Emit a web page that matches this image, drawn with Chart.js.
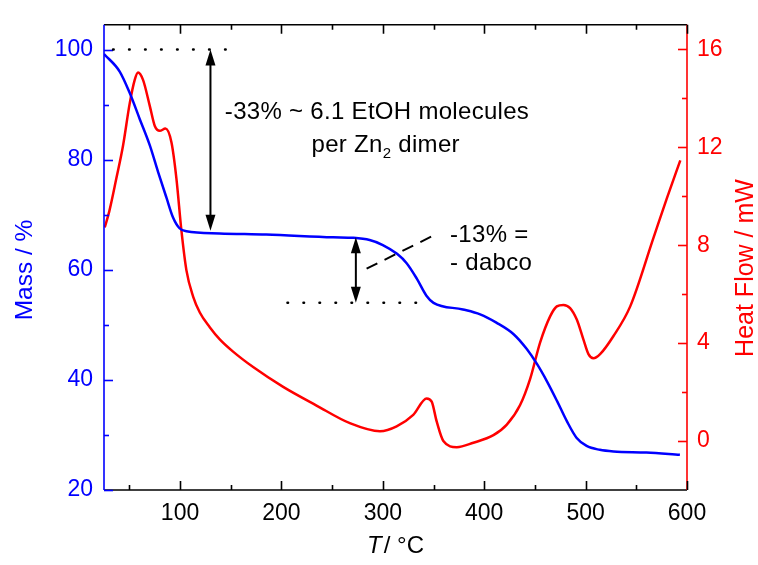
<!DOCTYPE html>
<html>
<head>
<meta charset="utf-8">
<script src="https://cdn.jsdelivr.net/npm/chart.js@4.4.1/dist/chart.umd.min.js"></script>
<style>
  html, body { margin: 0; padding: 0; background: #fff; }
  #wrap { width: 758px; height: 565px; position: relative; }
</style>
</head>
<body>
<div id="wrap"><canvas id="tga"></canvas></div>
<script>
  // TGA mass curve (left axis)
  const TEMP_MASS = [25, 40.5, 50.4, 60.2, 70.2, 78.3, 86.6, 93.1, 99.7, 106.3, 139, 185, 251, 271, 287, 300, 314, 323.5, 333.5, 343, 350, 379, 396, 412, 429, 442, 452, 462, 472, 481.5, 491, 501, 514, 527.5, 560, 593];
  const MASS = [99.2, 96.0, 92.1, 87.4, 82.6, 77.8, 73.1, 69.5, 67.5, 67.0, 66.6, 66.4, 65.9, 65.8, 65.4, 64.5, 62.9, 61.2, 58.4, 55.3, 54.0, 52.8, 51.9, 50.4, 48.3, 45.6, 42.9, 39.7, 36.1, 32.5, 29.5, 28.0, 27.3, 27.0, 26.8, 26.4];

  // DSC heat flow (right axis)
  const TEMP_HF = [25.7, 30.2, 37.2, 43.8, 50.4, 55.3, 58.6, 63.5, 70.2, 75.1, 80, 85.6, 91.5, 96.4, 101.4, 106.3, 112.9, 119.5, 129.3, 139.2, 152.3, 172.1, 201.7, 234.6, 267.5, 297.2, 313.6, 330, 343.2, 348.2, 353.1, 359.7, 372.9, 389.3, 409.1, 422.3, 435.4, 445.3, 455.1, 465, 471.6, 478.1, 484.7, 491.3, 497.8, 502.8, 507.7, 514.3, 527.5, 544, 567, 580.2, 593.4];
  const HF = [8.72, 9.38, 10.73, 12.07, 13.8, 14.75, 15.05, 14.75, 13.68, 12.87, 12.67, 12.76, 12.2, 10.73, 8.58, 6.97, 5.9, 5.25, 4.65, 4.15, 3.65, 3.02, 2.21, 1.45, 0.73, 0.40, 0.60, 1.07, 1.74, 1.61, 0.80, 0.0, -0.25, -0.07, 0.24, 0.67, 1.47, 2.54, 4.02, 5.09, 5.5, 5.56, 5.43, 4.96, 4.15, 3.55, 3.38, 3.55, 4.29, 5.5, 8.31, 9.92, 11.46];

  const X_TICKS = [100, 200, 300, 400, 500, 600];
  const X_MINOR = [50, 150, 250, 350, 450, 550];
  const MASS_TICKS = [20, 40, 60, 80, 100];
  const MASS_MINOR = [30, 50, 70, 90];
  const HF_TICKS = [0, 4, 8, 12, 16];
  const HF_MINOR = [2, 6, 10, 14];

  // annotations in data coordinates (x: °C, y: mass %)
  const DOTTED = [
    [[34, 100], [160, 100]],
    [[206, 54], [347, 54]],
  ];
  const ARROWS = [
    [[130, 100], [130, 67.1]],
    [[273.4, 65.9], [273.4, 54]],
  ];
  const DASHED = [[[284, 60.2], [353, 66.5]]];
  const LABELS = [
    { x: 144.2, y: 87.4, parts: [["-33% ~ 6.1 EtOH molecules", 0]] },
    { x: 229.7, y: 81.4, parts: [["per Zn", 0], ["2", 1], [" dimer", 0]] },
    { x: 366.3, y: 65.1, parts: [["-13% =", 0]] },
    { x: 366.3, y: 60.05, parts: [["- dabco", 0]] },
  ];

  const FONT = '"Liberation Sans", Arial, sans-serif';
  const BLUE = "#0000ff";
  const RED = "#ff0000";

  function fixTicks(list) {
    return (scale) => { scale.ticks = list.map((v) => ({ value: v })); };
  }

  const frame = {
    id: "frame",
    afterDraw(chart) {
      const { ctx, chartArea: a, scales } = chart;
      const x = scales.x, yM = scales.yMass, yH = scales.yHf;
      ctx.save();
      ctx.lineWidth = 1.6;
      ctx.lineCap = "butt";

      function hline(y, color) {
        ctx.strokeStyle = color;
        ctx.beginPath(); ctx.moveTo(a.left, y); ctx.lineTo(a.right, y); ctx.stroke();
      }
      function vline(px, color) {
        ctx.strokeStyle = color;
        ctx.beginPath(); ctx.moveTo(px, a.top); ctx.lineTo(px, a.bottom); ctx.stroke();
      }
      hline(a.top, "#000");
      hline(a.bottom, "#000");
      vline(a.left, BLUE);
      vline(a.right, RED);

      // x ticks, top & bottom, pointing inward
      ctx.strokeStyle = "#000";
      [[X_TICKS, 9], [X_MINOR, 5]].forEach(([vals, len]) => {
        vals.forEach((v) => {
          const px = Math.round(x.getPixelForValue(v)) + 0.5;
          ctx.beginPath();
          ctx.moveTo(px, a.bottom); ctx.lineTo(px, a.bottom - len);
          ctx.moveTo(px, a.top); ctx.lineTo(px, a.top + len);
          ctx.stroke();
        });
      });
      ctx.strokeStyle = BLUE;
      [[MASS_TICKS, 9], [MASS_MINOR, 5]].forEach(([vals, len]) => {
        vals.forEach((v) => {
          const py = Math.round(yM.getPixelForValue(v)) + 0.5;
          ctx.beginPath(); ctx.moveTo(a.left, py); ctx.lineTo(a.left + len, py); ctx.stroke();
        });
      });
      ctx.strokeStyle = RED;
      [[HF_TICKS, 9], [HF_MINOR, 5]].forEach(([vals, len]) => {
        vals.forEach((v) => {
          const py = Math.round(yH.getPixelForValue(v)) + 0.5;
          ctx.beginPath(); ctx.moveTo(a.right, py); ctx.lineTo(a.right - len, py); ctx.stroke();
        });
      });

      // annotations
      const P = (p) => [x.getPixelForValue(p[0]), yM.getPixelForValue(p[1])];
      ctx.strokeStyle = "#000";
      ctx.fillStyle = "#000";
      ctx.lineCap = "round";
      ctx.lineWidth = 2.6;
      ctx.setLineDash([0.5, 15.5]);
      DOTTED.forEach(([p0, p1]) => {
        const a0 = P(p0), a1 = P(p1);
        ctx.beginPath(); ctx.moveTo(a0[0], a0[1]); ctx.lineTo(a1[0], a1[1]); ctx.stroke();
      });
      ctx.lineCap = "butt";
      ctx.lineWidth = 2;
      ctx.setLineDash([12, 8]);
      DASHED.forEach(([p0, p1]) => {
        const a0 = P(p0), a1 = P(p1);
        ctx.beginPath(); ctx.moveTo(a0[0], a0[1]); ctx.lineTo(a1[0], a1[1]); ctx.stroke();
      });
      ctx.setLineDash([]);
      ARROWS.forEach(([p0, p1]) => {
        const a0 = P(p0), a1 = P(p1);
        const head = 16, half = 5;
        ctx.beginPath(); ctx.moveTo(a0[0], a0[1] + head - 2); ctx.lineTo(a1[0], a1[1] - head + 2); ctx.stroke();
        ctx.beginPath();
        ctx.moveTo(a0[0], a0[1]); ctx.lineTo(a0[0] - half, a0[1] + head); ctx.lineTo(a0[0] + half, a0[1] + head);
        ctx.closePath(); ctx.fill();
        ctx.beginPath();
        ctx.moveTo(a1[0], a1[1]); ctx.lineTo(a1[0] - half, a1[1] - head); ctx.lineTo(a1[0] + half, a1[1] - head);
        ctx.closePath(); ctx.fill();
      });

      ctx.textBaseline = "alphabetic";
      ctx.textAlign = "left";
      ctx.letterSpacing = "0.3px";
      LABELS.forEach((l) => {
        let [px, py] = P([l.x, l.y]);
        l.parts.forEach(([txt, sub]) => {
          ctx.font = (sub ? "15px " : "24px ") + FONT;
          ctx.fillText(txt, px, sub ? py + 6 : py);
          px += ctx.measureText(txt).width;
        });
      });
      ctx.letterSpacing = "0px";

      // axis titles
      ctx.save();
      ctx.fillStyle = BLUE;
      ctx.font = "24.5px " + FONT;
      ctx.textAlign = "center";
      ctx.translate(32, 270);
      ctx.rotate(-Math.PI / 2);
      ctx.fillText("Mass / %", 0, 0);
      ctx.restore();

      ctx.save();
      ctx.fillStyle = RED;
      ctx.font = "25px " + FONT;
      ctx.textAlign = "center";
      ctx.translate(753, 268);
      ctx.rotate(-Math.PI / 2);
      ctx.fillText("Heat Flow / mW", 0, 0);
      ctx.restore();

      ctx.fillStyle = "#000";
      ctx.textAlign = "left";
      ctx.font = "italic 24px " + FONT;
      const tW = ctx.measureText("T").width;
      ctx.font = "24px " + FONT;
      const rest = "/ °C";
      const rW = ctx.measureText(rest).width;
      const cx = (a.left + a.right) / 2;
      const sx = cx - (tW + rW + 2) / 2;
      ctx.font = "italic 24px " + FONT;
      ctx.fillText("T", sx, 553);
      ctx.font = "24px " + FONT;
      ctx.fillText(rest, sx + tW + 2, 553);

      ctx.restore();
    },
  };

  new Chart(document.getElementById("tga"), {
    type: "scatter",
    data: {
      datasets: [
        {
          label: "Mass",
          data: TEMP_MASS.map((t, i) => ({ x: t, y: MASS[i] })),
          yAxisID: "yMass",
          showLine: true,
          borderColor: BLUE,
          borderWidth: 2.5,
          pointRadius: 0,
          cubicInterpolationMode: "monotone",
        },
        {
          label: "Heat Flow",
          data: TEMP_HF.map((t, i) => ({ x: t, y: HF[i] })),
          yAxisID: "yHf",
          showLine: true,
          borderColor: RED,
          borderWidth: 2.5,
          pointRadius: 0,
          cubicInterpolationMode: "monotone",
        },
      ],
    },
    options: {
      responsive: true,
      maintainAspectRatio: false,
      animation: false,
      layout: { padding: { top: 17, left: 0, right: 0, bottom: 0 } },
      plugins: { legend: { display: false }, tooltip: { enabled: false } },
      scales: {
        x: {
          type: "linear",
          position: "bottom",
          min: 25,
          max: 600,
          afterBuildTicks: fixTicks(X_TICKS),
          afterFit: (s) => { s.height = 75; },
          grid: { display: false, drawTicks: false },
          border: { display: false },
          ticks: { color: "#000", font: { family: FONT, size: 23 }, padding: 10, maxRotation: 0 },
        },
        yMass: {
          type: "linear",
          position: "left",
          min: 20,
          max: 104.5,
          afterBuildTicks: fixTicks(MASS_TICKS),
          afterFit: (s) => { s.width = 104; },
          grid: { display: false, drawTicks: false },
          border: { display: false },
          ticks: { color: BLUE, font: { family: FONT, size: 23 }, padding: 11 },
        },
        yHf: {
          type: "linear",
          position: "right",
          min: -2,
          max: 17,
          afterBuildTicks: fixTicks(HF_TICKS),
          afterFit: (s) => { s.width = 71; },
          grid: { display: false, drawTicks: false },
          border: { display: false },
          ticks: { color: RED, font: { family: FONT, size: 23 }, padding: 10 },
        },
      },
    },
    plugins: [frame],
  });
</script>
</body>
</html>
